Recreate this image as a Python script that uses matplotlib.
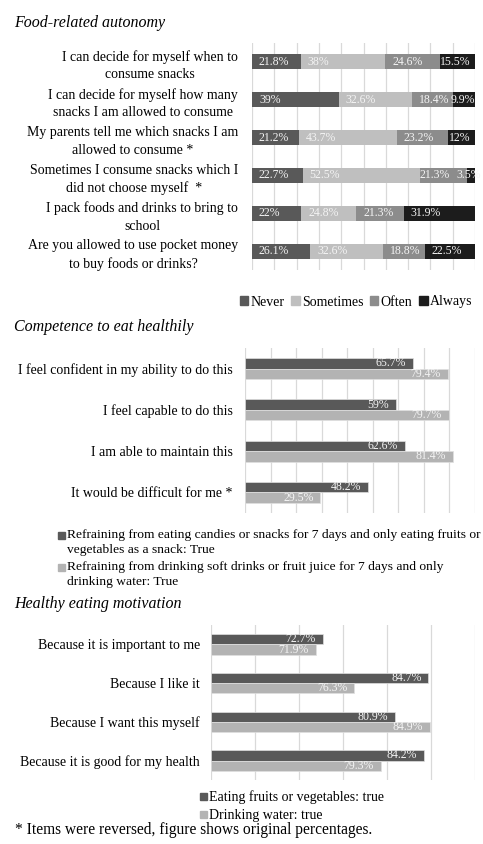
import matplotlib.pyplot as plt
from matplotlib.patches import Patch, Rectangle

W, H = 483, 844
plt.rcParams['font.family'] = ['Liberation Serif', 'DejaVu Serif']

# Food-related autonomy (stacked, %)
autonomy_items = [
    'I can decide for myself when to\nconsume snacks',
    'I can decide for myself how many\nsnacks I am allowed to consume',
    'My parents tell me which snacks I am\nallowed to consume *',
    'Sometimes I consume snacks which I\ndid not choose myself  *',
    'I pack foods and drinks to bring to\nschool',
    'Are you allowed to use pocket money\nto buy foods or drinks?',
]
levels = ['Never', 'Sometimes', 'Often', 'Always']
never = [21.8, 39, 21.2, 22.7, 22, 26.1]
sometimes = [38, 32.6, 43.7, 52.5, 24.8, 32.6]
often = [24.6, 18.4, 23.2, 21.3, 21.3, 18.8]
always = [15.5, 9.9, 12, 3.5, 31.9, 22.5]

# Competence to eat healthily
competence_items = [
    'I feel confident in my ability to do this',
    'I feel capable to do this',
    'I am able to maintain this',
    'It would be difficult for me *',
]
competence_snacks = [65.7, 59, 62.6, 48.2]
competence_water = [79.4, 79.7, 81.4, 29.5]
competence_legend = [
    'Refraining from eating candies or snacks for 7 days and only eating fruits or\nvegetables as a snack: True',
    'Refraining from drinking soft drinks or fruit juice for 7 days and only\ndrinking water: True',
]

# Healthy eating motivation
motivation_items = [
    'Because it is important to me',
    'Because I like it',
    'Because I want this myself',
    'Because it is good for my health',
]
motivation_fruit = [72.7, 84.7, 80.9, 84.2]
motivation_water = [71.9, 76.3, 84.9, 79.3]
motivation_legend = ['Eating fruits or vegetables: true', 'Drinking water: true']

stack_colors = ['#595959', '#bfbfbf', '#8c8c8c', '#1c1c1c']
dark, light = '#595959', '#b3b3b3'
label_color = '#f4f4f4'
grid_color = '#d9d9d9'

fig = plt.figure(figsize=(W / 100, H / 100), dpi=100)


def px_axes(left, top, right, bottom):
    return fig.add_axes([left / W, 1 - bottom / H, (right - left) / W, (bottom - top) / H])


def style(ax, items, xlim, step, pad):
    ax.set_xlim(*xlim)
    ax.set_ylim(len(items) - 0.5, -0.5)
    ax.set_xticks([xlim[0] + i * step for i in range(int(round((xlim[1] - xlim[0]) / step)) + 1)])
    ax.set_yticks(range(len(items)))
    ax.set_yticklabels(items, fontsize=10, multialignment='center')
    for t in ax.get_yticklabels():
        t.set_linespacing(1.45)
    ax.tick_params(length=0, labelbottom=False, pad=pad)
    ax.grid(axis='x', color=grid_color, linewidth=0.9)
    ax.set_axisbelow(True)
    for s in ax.spines.values():
        s.set_visible(False)


def px_text(x, y, s, **kw):
    fig.text(x / W, 1 - y / H, s, **kw)


def px_square(x, y, color, size=7):
    fig.add_artist(Rectangle((x / W, 1 - (y + size / 2) / H), size / W, size / H,
                             transform=fig.transFigure, color=color))


# ---- panel 1
px_text(14, 23, 'Food-related autonomy', fontsize=11.5, style='italic', va='center')
ax1 = px_axes(252, 43, 475, 270)
style(ax1, autonomy_items, (0, 100), 10, 10)
rows = list(range(len(autonomy_items)))
series = [never, sometimes, often, always]
for r in rows:
    vals = [s[r] for s in series]
    lefts = [sum(vals[:k]) for k in range(len(vals))]
    place = []
    for v, l in zip(vals, lefts):
        seg_px = v * 2.23
        txt_px = len(f'{v:g}%') * 5.6
        if l + v >= 99.9 and txt_px > seg_px:
            place.append(('end', 0))
        else:
            place.append(('base', 5 if seg_px - txt_px >= 12 else 0))
    # a squeezed last label pushes the previous one back to its base
    if place[-1][0] == 'end' and vals[-1] < 5:
        place[-2] = ('base', 0)
    for v, l, (mode, off) in zip(vals, lefts, place):
        txt = f'{v:g}%'
        if mode == 'end':
            ax1.annotate(txt, (100, r), xytext=(4 if v < 5 else 0, 0), textcoords='offset points',
                         ha='right', va='center', fontsize=8.5, color=label_color,
                         annotation_clip=False)
        else:
            ax1.annotate(txt, (l, r), xytext=(off, 0), textcoords='offset points', ha='left',
                         va='center', fontsize=8.5, color=label_color)

left = [0] * len(rows)
for vals, col, name in zip(series, stack_colors, levels):
    ax1.barh(rows, vals, left=left, height=0.4, color=col, label=name, zorder=1)
    left = [a + b for a, b in zip(left, vals)]

fig.legend(handles=[Patch(color=c) for c in stack_colors], labels=levels, loc='center',
           bbox_to_anchor=(356 / W, 1 - 302 / H), ncol=4, frameon=False, fontsize=10,
           handlelength=0.6, handleheight=0.6, handletextpad=0.15, columnspacing=0.5)

# ---- panel 2
px_text(14, 327, 'Competence to eat healthily', fontsize=11.5, style='italic', va='center')
ax2 = px_axes(245, 348, 475, 513)
style(ax2, competence_items, (0, 90), 10, 9)
h = 0.255
rows = list(range(len(competence_items)))
for vals, col, sgn in [(competence_snacks, dark, -1), (competence_water, light, 1)]:
    ys = [r + sgn * h / 2 for r in rows]
    ax2.barh(ys, vals, height=h, color=col, edgecolor='#e0e0e0', linewidth=0.5)
    for y, v in zip(ys, vals):
        ax2.annotate(f'{v:g}%', (v, y), xytext=(-5, 0), textcoords='offset points', ha='right',
                     va='center', fontsize=8.5, color=label_color)

for i, (lab, col) in enumerate(zip(competence_legend, [dark, light])):
    y0 = 535 + i * 32
    px_square(58, y0, col)
    px_text(67, y0 - 6, lab, fontsize=9.7, va='top', linespacing=1.38)

# ---- panel 3
px_text(14, 604, 'Healthy eating motivation', fontsize=11.5, style='italic', va='center')
ax3 = px_axes(211, 625, 475, 780)
style(ax3, motivation_items, (60, 90), 5, 8)
h = 0.266
rows = list(range(len(motivation_items)))
for vals, col, sgn in [(motivation_fruit, dark, -1), (motivation_water, light, 1)]:
    ys = [r + sgn * h / 2 for r in rows]
    ax3.barh(ys, [v - 60 for v in vals], left=60, height=h, color=col, edgecolor='#e0e0e0',
             linewidth=0.5)
    for y, v in zip(ys, vals):
        ax3.annotate(f'{v:g}%', (v, y), xytext=(-5, 0), textcoords='offset points', ha='right',
                     va='center', fontsize=8.5, color=label_color)

for i, (lab, col) in enumerate(zip(motivation_legend, [dark, light])):
    y0 = 797 + i * 18
    px_square(200, y0 - 1, col)
    px_text(209, y0, lab, fontsize=10, va='center')

px_text(15, 830, '* Items were reversed, figure shows original percentages.', fontsize=11.2,
        va='center')

fig.savefig('out.png', dpi=100)
